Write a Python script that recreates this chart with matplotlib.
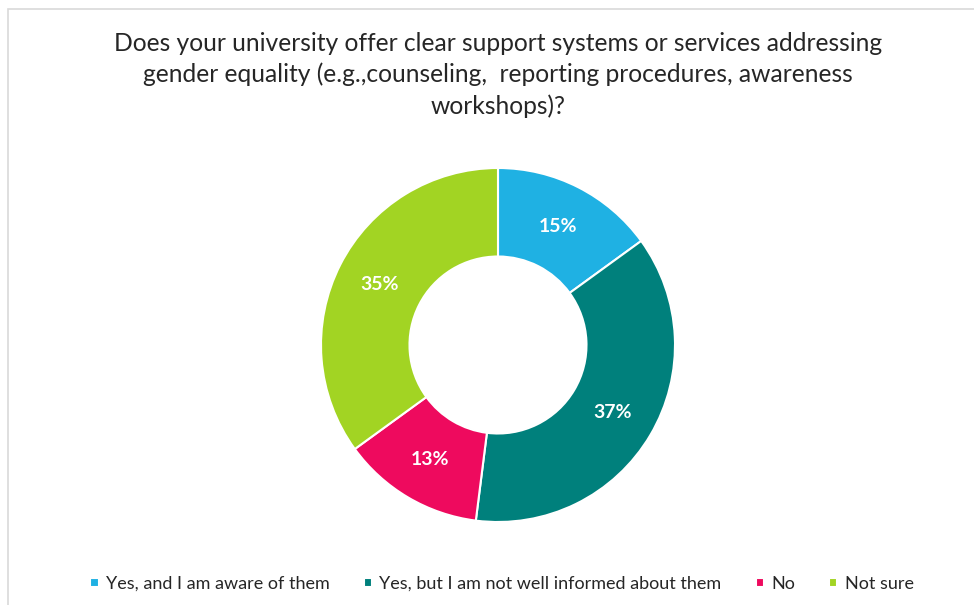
import matplotlib.pyplot as plt
from matplotlib.patches import Rectangle

plt.rcParams['font.family'] = ['Lato', 'DejaVu Sans']

categories = ['Yes, and I am aware of them',
              'Yes, but I am not well informed about them',
              'No',
              'Not sure']
shares = [15, 37, 13, 35]
colors = ['#1FB1E3', '#00807C', '#EE0A5E', '#A2D423']

title = ('Does your university offer clear support systems or services addressing\n'
         'gender equality (e.g.,counseling,  reporting procedures, awareness\n'
         'workshops)?')

W, H = 974, 605
fig = plt.figure(figsize=(W / 100, H / 100), dpi=100)

# light frame around the chart area (right and bottom edges run off the canvas)
fig.patches.append(Rectangle((8 / W, -0.1), 1.2, 1.1 - 9 / H, transform=fig.transFigure,
                             fill=False, edgecolor='#D9D9D9', linewidth=1.2))

fig.text(498 / W, 1 - 75 / H, title, ha='center', va='center', fontsize=17.7,
         color='#262626', linespacing=1.4, multialignment='center')

# donut: outer radius 177 px centred at (498, 345)
r = 177
ax = fig.add_axes([(498 - r) / W, 1 - (345 + r) / H, 2 * r / W, 2 * r / H])
wedges, texts, autotexts = ax.pie(
    shares, colors=colors, startangle=90, counterclock=False, radius=1.0,
    autopct='%d%%', pctdistance=0.75,
    wedgeprops=dict(width=0.5, edgecolor='white', linewidth=1.5))
for t in autotexts:
    t.set_color('white')
    t.set_fontweight('bold')
    t.set_fontsize(14)
ax.set_xlim(-1, 1)
ax.set_ylim(-1, 1)
ax.set_aspect('equal')

fig.legend(wedges, categories, loc='center', bbox_to_anchor=(502 / W, 1 - 584 / H),
           ncol=4, frameon=False, fontsize=13, handlelength=0.45, handleheight=0.45,
           handletextpad=0.4, columnspacing=1.9, labelcolor='#262626')

fig.savefig('out.png', dpi=100, facecolor='white')
